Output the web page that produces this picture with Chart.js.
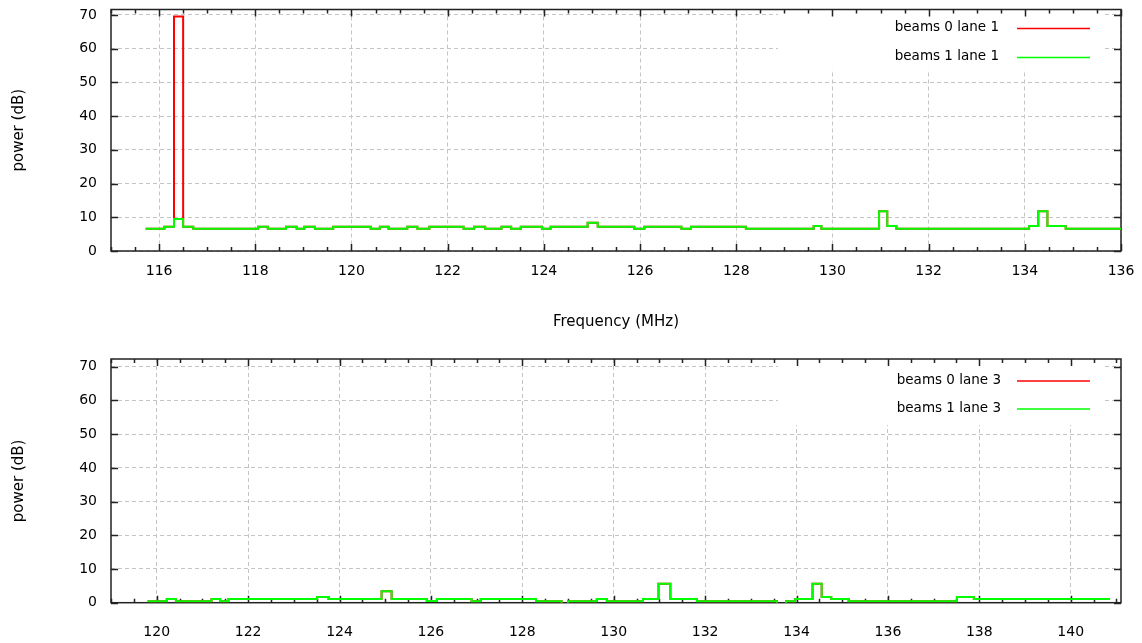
<!DOCTYPE html>
<html>
<head>
<meta charset="utf-8">
<script src="https://cdn.jsdelivr.net/npm/chart.js@4.4.1/dist/chart.umd.min.js"></script>
<style>
  html, body { margin: 0; padding: 0; background: #fff; overflow: hidden; }
  .panel { position: absolute; left: 0; width: 1142px; height: 340px; }
</style>
</head>
<body>
<div class="panel" style="top:0"><canvas id="top"></canvas></div>
<div class="panel" style="top:340px"><canvas id="bottom"></canvas></div>
<script>
// lane 1: step edges (MHz) and power (dB) from each edge to the next
const freqLane1 = [115.72, 116.11, 116.31, 116.50, 116.71, 118.06, 118.26, 118.64, 118.86, 119.02,
  119.24, 119.62, 120.40, 120.59, 120.77, 121.16, 121.37, 121.62, 122.33, 122.55,
  122.78, 123.12, 123.32, 123.52, 123.96, 124.14, 124.91, 125.12, 125.88, 126.09,
  126.86, 127.06, 128.20, 129.61, 129.77, 130.97, 131.14, 131.33, 134.09, 134.28,
  134.47, 134.85, 136.00];
const beams1Lane1 = [6.6, 7.2, 9.5, 7.2, 6.6, 7.2, 6.6, 7.2, 6.6, 7.2,
  6.6, 7.2, 6.6, 7.2, 6.6, 7.2, 6.6, 7.2, 6.6, 7.2,
  6.6, 7.2, 6.6, 7.2, 6.6, 7.2, 8.4, 7.2, 6.6, 7.2,
  6.6, 7.2, 6.6, 7.4, 6.6, 11.8, 7.4, 6.6, 7.4, 11.8,
  7.4, 6.6, 6.6];
const beams0Lane1 = [6.6, 7.2, 69.5, 7.2, 6.6, 7.2, 6.6, 7.2, 6.6, 7.2,
  6.6, 7.2, 6.6, 7.2, 6.6, 7.2, 6.6, 7.2, 6.6, 7.2,
  6.6, 7.2, 6.6, 7.2, 6.6, 7.2, 8.4, 7.2, 6.6, 7.2,
  6.6, 7.2, 6.6, 7.4, 6.6, 11.8, 7.4, 6.6, 7.4, 11.8,
  7.4, 6.6, 6.6];

// lane 3
const freqLane3 = [119.80, 120.22, 120.42, 121.20, 121.39, 121.57, 123.51, 123.76, 124.92, 125.14,
  125.91, 126.13, 126.89, 127.09, 128.30, 128.86, 129.00, 129.63, 129.85, 130.64,
  130.98, 131.24, 131.82, 133.57, 133.77, 133.97, 134.35, 134.55, 134.76, 135.14,
  137.51, 137.88, 140.86];
const beams1Lane3 = [0.4, 1.1, 0.4, 1.1, 0.4, 1.1, 1.7, 1.1, 3.4, 1.1,
  0.5, 1.1, 0.4, 1.1, 0.4, -2, 0.4, 1.1, 0.4, 1.1,
  5.6, 1.1, 0.4, -2, 0.4, 1.1, 5.6, 1.7, 1.1, 0.4,
  1.7, 1.1, 1.1];
const beams0Lane3 = beams1Lane3.slice();

const yTicks = [0, 10, 20, 30, 40, 50, 60, 70];

const FONT = 'DejaVu Sans';

const frame = {
  id: 'frame',
  beforeDatasetsDraw(chart, args, opts) {
    const { ctx, chartArea: a, scales: { x, y } } = chart;
    ctx.save();
    // key box clears the grid
    ctx.fillStyle = '#fff';
    ctx.fillRect(a.left + opts.keyLeft, a.top, opts.keyWidth, opts.keyHeight);

    ctx.strokeStyle = '#222';
    ctx.lineWidth = 1.5;
    ctx.strokeRect(a.left, a.top, a.right - a.left, a.bottom - a.top);

    ctx.beginPath();
    for (let v = Math.ceil(x.min * 2) / 2; v <= x.max + 1e-6; v += 0.5) {
      const px = Math.round(x.getPixelForValue(v)) + 0.5;
      const len = Math.abs(v % 2) < 1e-6 ? 7 : 4;
      ctx.moveTo(px, a.bottom); ctx.lineTo(px, a.bottom - len);
      ctx.moveTo(px, a.top); ctx.lineTo(px, a.top + len);
    }
    yTicks.forEach(v => {
      const py = Math.round(y.getPixelForValue(v)) + 0.5;
      ctx.moveTo(a.left, py); ctx.lineTo(a.left + 7, py);
      ctx.moveTo(a.right, py); ctx.lineTo(a.right - 7, py);
    });
    ctx.stroke();

    // key entries
    ctx.font = '13.5px "' + FONT + '"';
    ctx.fillStyle = '#000';
    ctx.textAlign = 'right';
    ctx.textBaseline = 'middle';
    chart.data.datasets.forEach((ds, i) => {
      const ty = a.top + opts.row0 + i * opts.rowGap;
      ctx.fillText(ds.label, a.left + opts.textRight, ty);
      ctx.strokeStyle = ds.borderColor;
      ctx.lineWidth = 1.5;
      ctx.beginPath();
      ctx.moveTo(a.left + opts.lineX0, ty + 1);
      ctx.lineTo(a.left + opts.lineX1, ty + 1);
      ctx.stroke();
    });
    ctx.restore();
  }
};

function makeChart(id, freq, s0, s1, labels, xr, ymax, geo) {
  const pts = vals => freq.map((f, i) => ({ x: f, y: vals[i] }));
  return new Chart(document.getElementById(id), {
    type: 'line',
    data: {
      datasets: [
        { label: labels[0], data: pts(s0), borderColor: '#ff0000', borderWidth: 2, stepped: 'before', pointRadius: 0, order: 2 },
        { label: labels[1], data: pts(s1), borderColor: '#00ff00', borderWidth: 2, stepped: 'before', pointRadius: 0, order: 1 }
      ]
    },
    options: {
      responsive: true,
      maintainAspectRatio: false,
      animation: false,
      events: [],
      layout: { padding: { top: geo.top, right: 21, left: 0, bottom: 0 } },
      plugins: {
        legend: { display: false },
        tooltip: { enabled: false },
        frame: geo.key
      },
      scales: {
        x: {
          type: 'linear',
          min: xr[0],
          max: xr[1],
          afterFit: s => { s.height = geo.xHeight; s.paddingLeft = 0; s.paddingRight = 0; },
          ticks: { stepSize: 2, includeBounds: false, padding: geo.xPad, color: '#000', font: { family: FONT, size: 14 } },
          grid: { color: '#c4c4c4', lineWidth: 1, drawTicks: false },
          border: { display: false, dash: [4, 3] },
          title: { display: true, text: 'Frequency (MHz)', color: '#000', font: { family: FONT, size: 15 }, padding: { top: 0, bottom: 9 } }
        },
        y: {
          min: 0,
          max: ymax,
          afterFit: s => { s.width = 111; s.paddingTop = 0; s.paddingBottom = 0; },
          ticks: { stepSize: 10, includeBounds: false, padding: 14, color: '#000', font: { family: FONT, size: 14 } },
          grid: { color: '#c4c4c4', lineWidth: 1, drawTicks: false },
          border: { display: false, dash: [4, 3] },
          title: { display: true, text: 'power (dB)', color: '#000', font: { family: FONT, size: 15 }, padding: { top: 10.5, bottom: 0 } }
        }
      }
    },
    plugins: [frame]
  });
}

makeChart('top', freqLane1, beams0Lane1, beams1Lane1, ['beams 0 lane 1', 'beams 1 lane 1'],
  [115, 136], 71.6,
  { top: 9.5, xHeight: 89, xPad: 12,
    key: { keyLeft: 667, keyWidth: 327, keyHeight: 60, row0: 18, rowGap: 29, textRight: 888, lineX0: 906, lineX1: 979 } });

makeChart('bottom', freqLane3, beams0Lane3, beams1Lane3, ['beams 0 lane 3', 'beams 1 lane 3'],
  [119, 141.1], 72.3,
  { top: 19, xHeight: 77.3, xPad: 21,
    key: { keyLeft: 667, keyWidth: 327, keyHeight: 66, row0: 21, rowGap: 28, textRight: 890, lineX0: 906, lineX1: 979 } });
</script>
</body>
</html>
